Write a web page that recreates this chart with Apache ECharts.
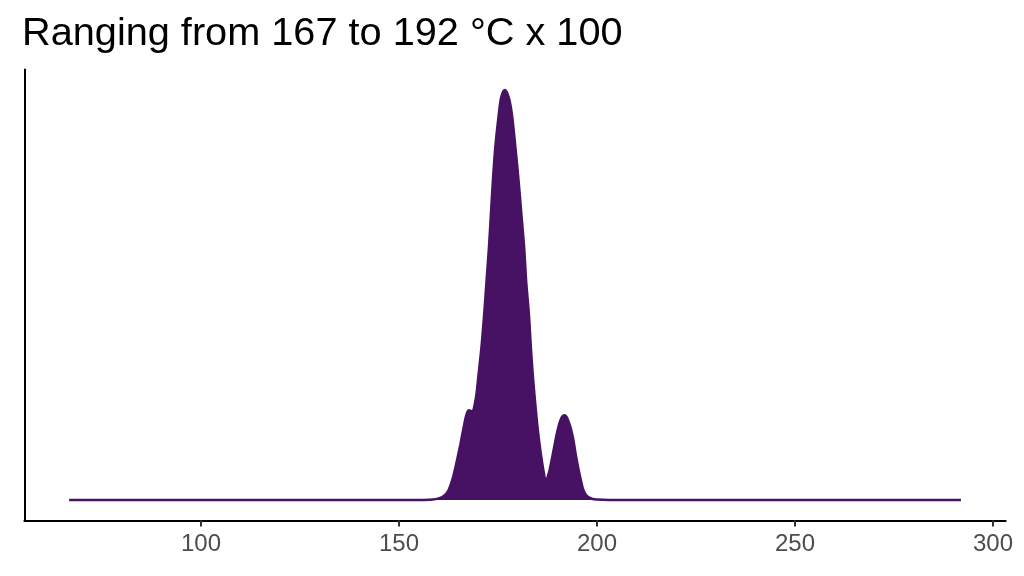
<!DOCTYPE html>
<html>
<head>
<meta charset="utf-8">
<script src="https://cdn.jsdelivr.net/npm/echarts@6/dist/echarts.min.js"></script>
<style>html,body{margin:0;padding:0;background:#fff}#c{width:1024px;height:576px}</style>
</head>
<body>
<div id="c"></div>
<script>
const titleText = "Ranging from 167 to 192 °C x 100";
const xTicks = [100, 150, 200, 250, 300];
// temperature (x) and relative density (y)
const temps = [66.7, 155, 158.5, 160.0, 161.3, 162.4, 163.6, 164.6, 165.5, 166.3, 166.8, 167.2, 167.6, 168.0, 168.4, 168.8, 169.2, 169.6, 170.0, 170.8, 171.5, 172.1, 172.7, 173.2, 173.7, 174.3, 175.2, 175.8, 176.7, 177.7, 178.5, 179.4, 180.2, 180.9, 181.6, 182.1, 182.8, 183.3, 183.9, 184.5, 185.0, 185.5, 186.0, 186.5, 187.05, 187.5, 188.0, 188.5, 189.0, 189.5, 190.0, 190.5, 191.0, 191.5, 191.9, 192.4, 193.0, 193.5, 194.0, 194.7, 195.5, 196.0, 196.5, 197.4, 198.7, 200, 203, 291.9];
const density = [0, 0, 0.001, 0.004, 0.01, 0.022, 0.054, 0.095, 0.136, 0.176, 0.2, 0.213, 0.219, 0.218, 0.215, 0.22, 0.237, 0.262, 0.298, 0.371, 0.453, 0.534, 0.615, 0.697, 0.778, 0.859, 0.941, 0.982, 1.0, 0.982, 0.941, 0.859, 0.778, 0.697, 0.615, 0.534, 0.453, 0.371, 0.29, 0.225, 0.175, 0.135, 0.1, 0.07, 0.046, 0.055, 0.072, 0.095, 0.12, 0.145, 0.168, 0.187, 0.2, 0.206, 0.207, 0.201, 0.186, 0.17, 0.148, 0.107, 0.067, 0.045, 0.026, 0.01, 0.003, 0.001, 0, 0];

const chart = echarts.init(document.getElementById('c'));
const fillColor = '#471164';
chart.setOption({
  animation: false,
  backgroundColor: '#ffffff',
  title: {
    text: titleText, left: 22, top: 14, padding: 0,
    textStyle: { fontFamily: 'Liberation Sans', fontSize: 39.7, fontWeight: 'normal', color: '#000' }
  },
  grid: { left: 24.4, right: 18.3, top: 69.5, bottom: 55.5, containLabel: false },
  xAxis: {
    type: 'value', min: 55.4, max: 303.2,
    splitLine: { show: false },
    axisLine: { onZero: false, lineStyle: { color: '#000', width: 2 } },
    axisTick: { show: true, length: 6, customValues: xTicks, lineStyle: { color: '#333', width: 2 } },
    axisLabel: { customValues: xTicks, margin: 12, fontFamily: 'Liberation Sans', fontSize: 24, color: '#4d4d4d' }
  },
  yAxis: {
    type: 'value', min: -0.05, max: 1.05,
    splitLine: { show: false },
    axisLine: { show: true, onZero: false, lineStyle: { color: '#000', width: 2 } },
    axisTick: { show: false },
    axisLabel: { show: false }
  },
  series: [{
    type: 'line',
    data: temps.map((t, i) => [t, density[i]]),
    smooth: 0.3,
    showSymbol: false,
    symbol: 'none',
    lineStyle: { color: fillColor, width: 2.5 },
    areaStyle: { color: fillColor, opacity: 1, origin: 0 }
  }]
});
</script>
</body>
</html>
